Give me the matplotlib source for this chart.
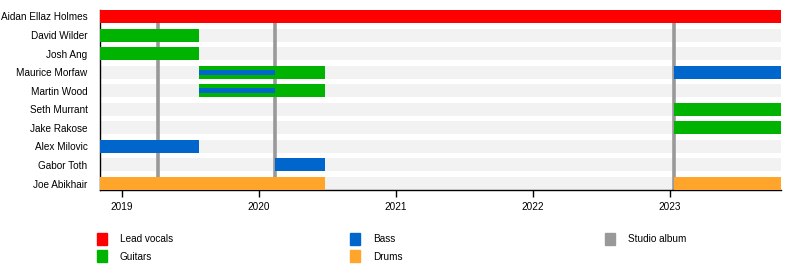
import matplotlib
matplotlib.use("Agg")
import matplotlib.pyplot as plt
from matplotlib.patches import Rectangle

plt.rcParams['font.family'] = ['Liberation Sans', 'DejaVu Sans']

members = ["Aidan Ellaz Holmes", "David Wilder", "Josh Ang", "Maurice Morfaw",
           "Martin Wood", "Seth Murrant", "Jake Rakose", "Alex Milovic",
           "Gabor Toth", "Joe Abikhair"]

start, end = 2018.84, 2023.81

# (member index, role, start, end)
role_colors = {"Lead vocals": "#ff0000", "Guitars": "#00b300",
               "Bass": "#0066cc", "Drums": "#ffa52c"}
periods = [
    (0, "Lead vocals", 2018.84, 2023.81),
    (1, "Guitars", 2018.84, 2019.56),
    (2, "Guitars", 2018.84, 2019.56),
    (3, "Guitars", 2019.56, 2020.48),
    (3, "Bass", 2023.03, 2023.81),
    (4, "Guitars", 2019.56, 2020.48),
    (5, "Guitars", 2023.03, 2023.81),
    (6, "Guitars", 2023.03, 2023.81),
    (7, "Bass", 2018.84, 2019.56),
    (8, "Bass", 2020.12, 2020.48),
    (9, "Drums", 2018.84, 2020.48),
    (9, "Drums", 2023.03, 2023.81),
]
# secondary roles (thin stripe)
secondary = [
    (3, "Bass", 2019.56, 2020.12),
    (4, "Bass", 2019.56, 2020.12),
]
albums = [2019.26, 2020.12, 2023.03]
years = [2019, 2020, 2021, 2022, 2023]

fig = plt.figure(figsize=(8, 2.7), dpi=100)
ax = fig.add_axes([100/800, 1-190/270, 681/800, 180/270])

bh = 0.7
for i in range(len(members)):
    ax.barh(i, end-start, left=start, height=bh, color="#f2f2f2", zorder=1)
for a in albums:
    ax.axvline(a, color="#999999", lw=2.6, zorder=2)
for i, role, s, e in periods:
    ax.barh(i, e-s, left=s, height=bh, color=role_colors[role], zorder=3)
for i, role, s, e in secondary:
    ax.barh(i, e-s, left=s, height=0.26, color=role_colors[role], zorder=4)

ax.set_xlim(start, end)
ax.set_ylim(len(members)-1+0.35, -0.35)
ax.set_yticks(range(len(members)))
ax.set_yticklabels(members, fontsize=7.2)
ax.tick_params(axis='y', length=0, pad=9)
ax.set_xticks(years)
ax.set_xticklabels([str(y) for y in years], fontsize=7.2)
ax.tick_params(axis='x', length=5, width=1, direction='out', pad=4)
for sp in ["top", "right"]:
    ax.spines[sp].set_visible(False)
ax.spines["left"].set_linewidth(1)
ax.spines["bottom"].set_linewidth(1)

legend_labels = ["Lead vocals", "Guitars", "Bass", "Drums", "Studio album"]
legend_colors = ["#ff0000", "#00b300", "#0066cc", "#ffa52c", "#999999"]
col_x = [97, 350, 605]
row_y = [233, 250]
for k, (lab, col) in enumerate(zip(legend_labels, legend_colors)):
    c, r = divmod(k, 2)
    x0, y0 = col_x[c], row_y[r]
    fig.add_artist(Rectangle((x0/800, 1-(y0+12)/270), 10/800, 12/270,
                             transform=fig.transFigure, color=col))
    fig.text((x0+23)/800, 1-(y0+6.5)/270, lab, fontsize=7.2, va='center', ha='left')

fig.savefig("out.png", dpi=100)
